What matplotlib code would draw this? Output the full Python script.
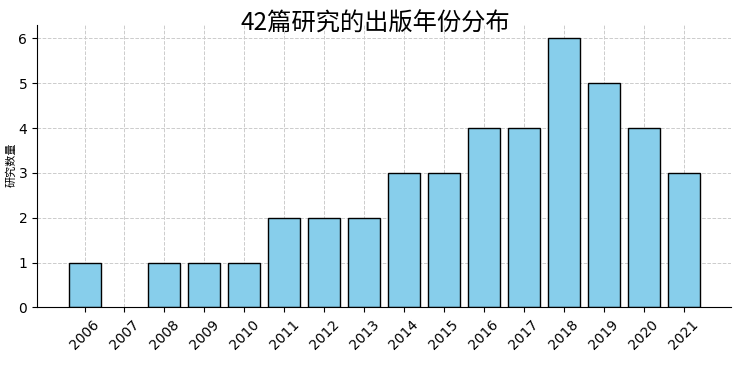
import matplotlib
matplotlib.use("Agg")
import matplotlib.pyplot as plt

years = [2006, 2007, 2008, 2009, 2010, 2011, 2012, 2013,
         2014, 2015, 2016, 2017, 2018, 2019, 2020, 2021]
counts = [1, 0, 1, 1, 1, 2, 2, 2, 3, 3, 4, 4, 6, 5, 4, 3]
title = "42篇研究的出版年份分布"
ylabel = "研究数量"

plt.rcParams['font.family'] = ['DejaVu Sans', 'Noto Sans CJK SC']

fig = plt.figure(figsize=(7.4, 3.66), dpi=100)
ax = fig.add_axes([0.05, 0.16, 0.938, 0.772])

# zero-height bars get no outline
edges = ['black' if c > 0 else 'none' for c in counts]
ax.bar(years, counts, width=0.8, color='skyblue', edgecolor=edges, linewidth=1)
ax.set_xticks(years)
ax.set_xticklabels([str(y) for y in years], rotation=45)
ax.tick_params(labelsize=10)
fig.text(0.507, 0.917, title, fontsize=17.5, weight='medium',
         family=['Noto Sans CJK SC'], ha='center', va='baseline')
fig.text(0.015, 0.55, ylabel, fontsize=8, rotation=90,
         family=['Noto Sans CJK SC'], ha='center', va='center')
ax.grid(True, linestyle='--', color='#cccccc', linewidth=0.7)
ax.set_axisbelow(True)
ax.spines['top'].set_visible(False)
ax.spines['right'].set_visible(False)

fig.savefig("out.png", dpi=100)
